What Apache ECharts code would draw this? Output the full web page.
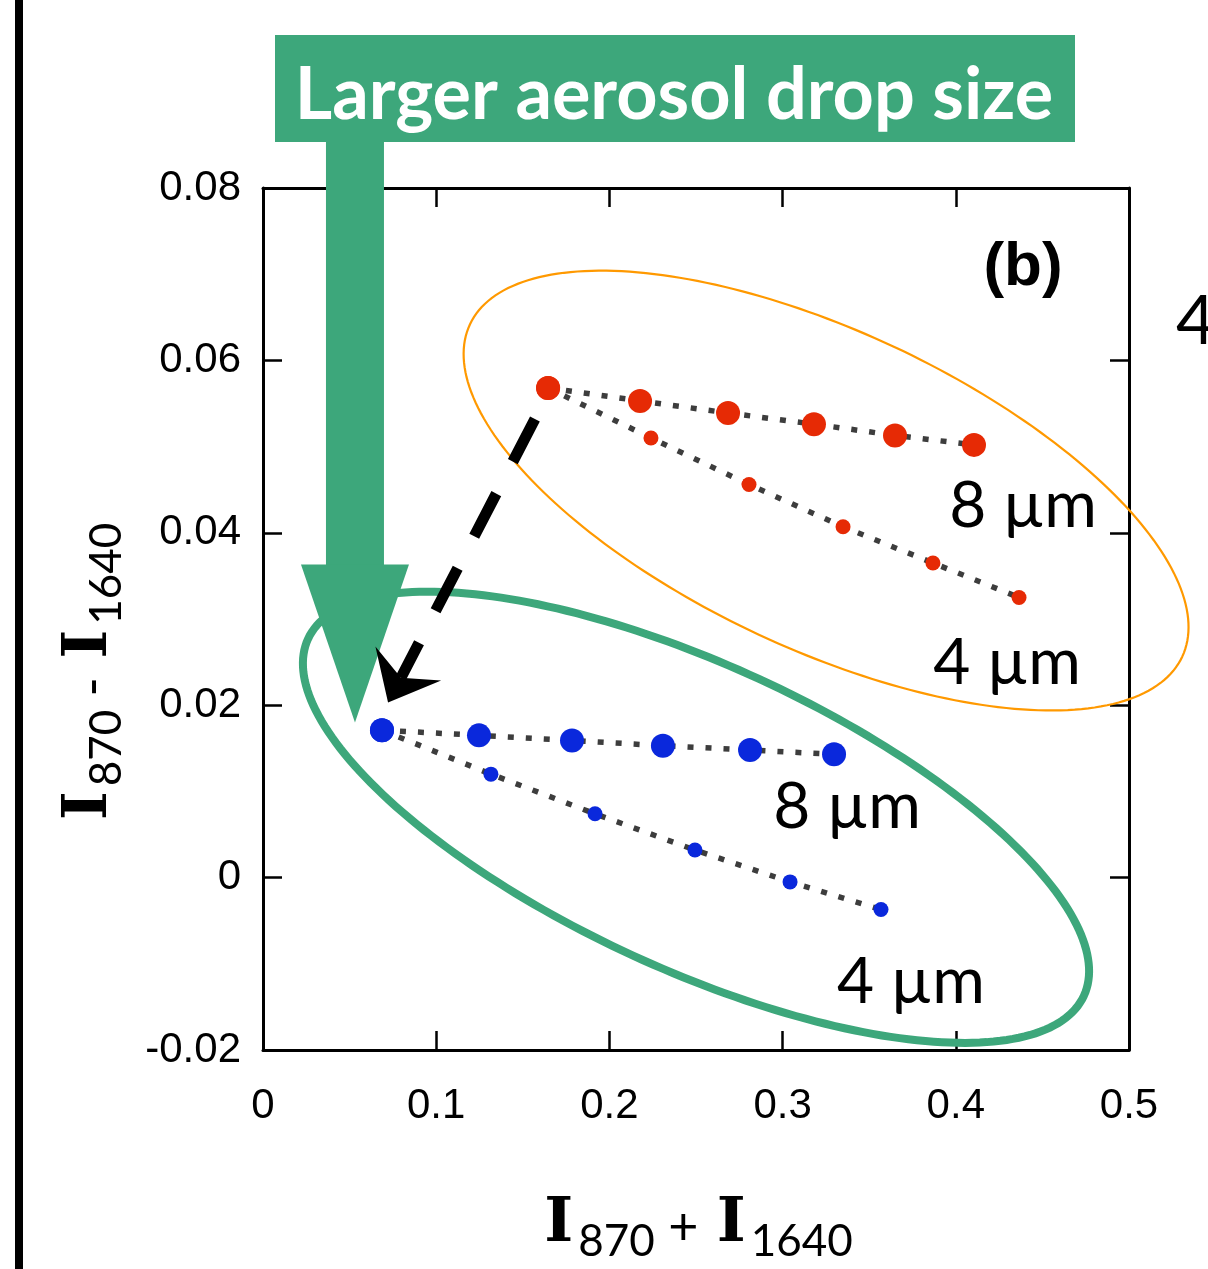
<!DOCTYPE html>
<html><head><meta charset="utf-8">
<script src="https://cdn.jsdelivr.net/npm/echarts@6/dist/echarts.min.js"></script>
<style>html,body{margin:0;padding:0;background:#fff}#c{width:1208px;height:1269px}</style>
</head><body><div id="c"></div>
<script>
// ---- data ----
const xTicks = ['0', '0.1', '0.2', '0.3', '0.4', '0.5'];
const yTicks = ['-0.02', '0', '0.02', '0.04', '0.06', '0.08'];
const red8X = [0.1646, 0.2177, 0.2685, 0.3181, 0.3649, 0.4105];
const red8Y = [0.0568, 0.0553, 0.0539, 0.0526, 0.0513, 0.0502];
const red4X = [0.1646, 0.2240, 0.2806, 0.3349, 0.3868, 0.4365];
const red4Y = [0.0568, 0.0510, 0.0456, 0.0407, 0.0365, 0.0325];
const blue8X = [0.0687, 0.1247, 0.1784, 0.2309, 0.2812, 0.3297];
const blue8Y = [0.0171, 0.0165, 0.0159, 0.0153, 0.0148, 0.0143];
const blue4X = [0.0687, 0.1316, 0.1917, 0.2494, 0.3043, 0.3568];
const blue4Y = [0.0171, 0.0120, 0.0074, 0.0032, -0.0005, -0.0037];
const sizeLabels = ['8 \u00b5m', '4 \u00b5m', '8 \u00b5m', '4 \u00b5m'];
const sizeLabelAnchors = [[0.4388, 0.0431], [0.4296, 0.0248], [0.3372, 0.0081], [0.3741, -0.0121]];
const boxTitle = 'Larger aerosol drop size';
const panelTag = '(b)';

// ---- styles / annotation config ----
const RED = '#e62a05', BLUE = '#0a28dc', GREEN = '#3da77b', ORANGE = '#ff9900', DOT = '#3d3d3d';
const ellipses = [
  { c: [0.3251, 0.0449], rx: 393, ry: 159, rot: 25, color: ORANGE, width: 2.2 },
  { c: [0.2500, 0.0070], rx: 427, ry: 152, rot: 24.7, color: GREEN, width: 8 }
];
const zip = (a, b) => a.map((v, i) => [v, b[i]]);

const chart = echarts.init(document.getElementById('c'), null, { renderer: 'canvas' });

const nameRich = {
  I: { fontFamily: 'DejaVu Serif', fontWeight: 'bold', fontSize: 62, color: '#000', verticalAlign: 'bottom', padding: [0, 5, 8, 5] },
  s: { fontFamily: 'Lato', fontSize: 44, color: '#000', verticalAlign: 'bottom' },
  o: { fontFamily: 'Lato', fontSize: 52, color: '#000', verticalAlign: 'bottom', padding: [0, 0, 10, 0] }
};

const axisLineStyle = { show: true, onZero: false, lineStyle: { color: '#000', width: 3 } };
const tickStyle = { show: true, inside: true, length: 19, lineStyle: { color: '#000', width: 2.5 } };

function dotted(x, y) {
  return { type: 'line', data: zip(x, y), symbol: 'none', showSymbol: false, silent: true, z: 2,
    lineStyle: { color: DOT, width: 5.5, type: [6, 12], cap: 'butt' } };
}
function pts(x, y, color, small) {
  return { type: 'scatter', data: zip(x, y), z: 3, silent: true,
    symbolSize: (v, p) => (small && p.dataIndex > 0 ? 15 : 24),
    itemStyle: { color: color, opacity: 1 } };
}

chart.setOption({
  animation: false,
  backgroundColor: '#fff',
  grid: { left: 263, top: 188, width: 866, height: 867, containLabel: false },
  xAxis: [
    { type: 'value', min: 0, max: 0.5, interval: 0.1, position: 'bottom',
      axisLine: axisLineStyle, axisTick: tickStyle, splitLine: { show: false },
      axisLabel: { formatter: (v, i) => xTicks[i], fontFamily: 'Liberation Sans', fontSize: 42, color: '#000', margin: 35 },
      name: '{I|I}{s|870}{o| + }{I|I}{s|1640}', nameLocation: 'middle', nameGap: 144,
      nameTextStyle: { rich: nameRich } },
    { type: 'value', min: 0, max: 0.5, interval: 0.1, position: 'top',
      axisLine: axisLineStyle, axisTick: tickStyle, splitLine: { show: false }, axisLabel: { show: false } }
  ],
  yAxis: [
    { type: 'value', min: -0.02, max: 0.08, interval: 0.02, position: 'left',
      axisLine: axisLineStyle, axisTick: tickStyle, splitLine: { show: false },
      axisLabel: { formatter: (v, i) => yTicks[i], fontFamily: 'Liberation Sans', fontSize: 42, color: '#000', margin: 22 },
      name: '{I|I}{s|870}{o| - }{I|I}{s|1640}', nameLocation: 'middle', nameGap: 134,
      nameTextStyle: { rich: nameRich, padding: [0, 110, 0, 0] } },
    { type: 'value', min: -0.02, max: 0.08, interval: 0.02, position: 'right',
      axisLine: axisLineStyle, axisTick: tickStyle, splitLine: { show: false }, axisLabel: { show: false } }
  ],
  series: [
    { type: 'custom', silent: true, z: 1, clip: false,
      data: ellipses.map(e => e.c),
      renderItem: (params, api) => {
        const e = ellipses[params.dataIndex];
        const c = api.coord([api.value(0), api.value(1)]);
        const t = e.rot * Math.PI / 180, p = [];
        for (let k = 0; k < 240; k++) {
          const a = k / 240 * 2 * Math.PI;
          const ex = e.rx * Math.cos(a), ey = e.ry * Math.sin(a);
          p.push([c[0] + ex * Math.cos(t) - ey * Math.sin(t), c[1] + ex * Math.sin(t) + ey * Math.cos(t)]);
        }
        return { type: 'polygon', shape: { points: p }, style: { fill: 'none', stroke: e.color, lineWidth: e.width } };
      } },
    dotted(red8X, red8Y), dotted(red4X, red4Y), dotted(blue8X, blue8Y), dotted(blue4X, blue4Y),
    pts(red8X, red8Y, RED, false), pts(red4X, red4Y, RED, true),
    pts(blue8X, blue8Y, BLUE, false), pts(blue4X, blue4Y, BLUE, true)
  ]
});

// ---- annotations positioned through the chart's own scales ----
const P = d => chart.convertToPixel({ xAxisIndex: 0, yAxisIndex: 0 }, d);
const g = [];
g.push({ type: 'rect', shape: { x: 15, y: 0, width: 8, height: 1269 }, style: { fill: '#000' }, z: 10 });
g.push({ type: 'rect', shape: { x: 275, y: 35, width: 800, height: 107 }, style: { fill: GREEN }, z: 10 });
g.push({ type: 'text', x: 674, y: 96, z: 11,
  style: { text: boxTitle, fill: '#fff', font: 'bold 72px Lato', textAlign: 'center', textVerticalAlign: 'middle' } });
const gt = P([0.0531, 0.0180]);
g.push({ type: 'rect', shape: { x: gt[0] - 29, y: 140, width: 58, height: gt[1] - 158 - 140 + 1 }, style: { fill: GREEN }, z: 10 });
g.push({ type: 'polygon', shape: { points: [[gt[0] - 54, gt[1] - 158], [gt[0] + 54, gt[1] - 158], [gt[0], gt[1]]] }, style: { fill: GREEN }, z: 10 });
const ds = P([0.1570, 0.0532]), dt = P([0.0722, 0.0203]);
const L = Math.hypot(dt[0] - ds[0], dt[1] - ds[1]);
const ux = (dt[0] - ds[0]) / L, uy = (dt[1] - ds[1]) / L, nx = -uy, ny = ux;
const notch = [dt[0] - ux * 28, dt[1] - uy * 28];
g.push({ type: 'line', shape: { x1: ds[0], y1: ds[1], x2: notch[0], y2: notch[1] }, z: 12,
  style: { stroke: '#000', lineWidth: 11, lineDash: [48, 36], lineCap: 'butt' } });
g.push({ type: 'polygon', z: 12, style: { fill: '#000' }, shape: { points: [
  [dt[0], dt[1]],
  [dt[0] - ux * 44 + nx * 37, dt[1] - uy * 44 + ny * 37],
  [notch[0], notch[1]],
  [dt[0] - ux * 44 - nx * 37, dt[1] - uy * 44 - ny * 37]
] } });
sizeLabels.forEach((t, i) => {
  const p = P(sizeLabelAnchors[i]);
  g.push({ type: 'text', x: p[0], y: p[1], z: 12,
    style: { text: t, fill: '#000', font: '64px Lato', textAlign: 'center', textVerticalAlign: 'middle' } });
});
g.push({ type: 'text', x: 1023, y: 268, z: 12,
  style: { text: panelTag, fill: '#000', font: 'bold 62px "Liberation Sans"', textAlign: 'center', textVerticalAlign: 'middle' } });
g.push({ type: 'text', x: 1176, y: 322, z: 12,
  style: { text: '4', fill: '#000', font: '68px Lato', textAlign: 'left', textVerticalAlign: 'middle' } });

chart.setOption({ graphic: { elements: g } });
</script>
</body></html>
